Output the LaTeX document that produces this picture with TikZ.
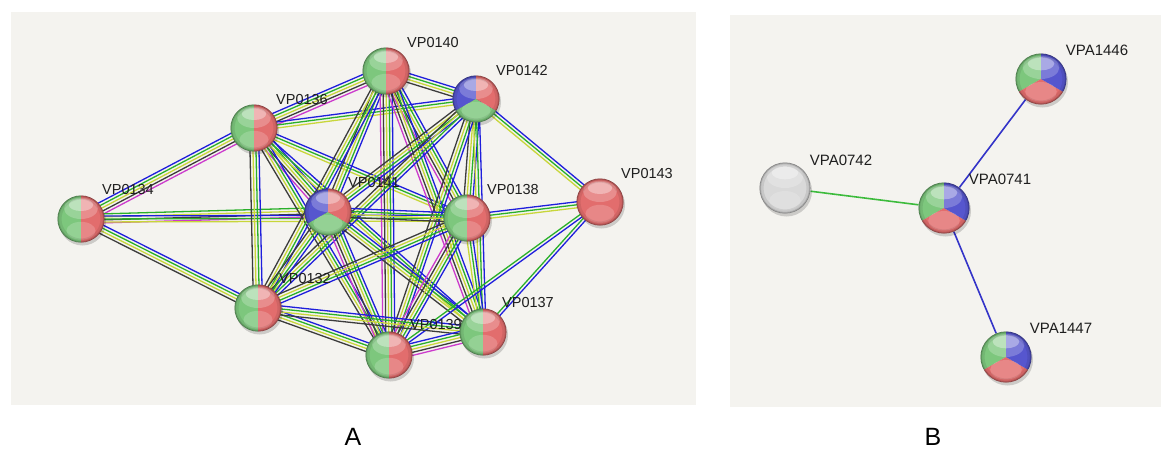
\documentclass[tikz,border=0pt]{standalone}
\usepackage{fontspec}
\setmainfont{Liberation Sans}
\usetikzlibrary{calc}
\definecolor{bgpanel}{HTML}{F4F3EF}
\definecolor{bgreen}{HTML}{7DC77D}
\definecolor{bred}{HTML}{E26D6D}
\definecolor{bblue}{HTML}{5656CE}
\definecolor{bgrey}{HTML}{D9D9D9}
\definecolor{ek}{HTML}{3C3C3C}
\definecolor{ey}{HTML}{C8D63A}
\definecolor{eg}{HTML}{2AB02A}
\definecolor{eb}{HTML}{1E1EDC}
\definecolor{em}{HTML}{CC3ACC}
\definecolor{lbl}{HTML}{1E1E1E}
\definecolor{lineg}{HTML}{3CBB3C}
\definecolor{lineb}{HTML}{3434C8}
\pgfdeclarelayer{back}
\pgfdeclarelayer{edges}
\pgfdeclarelayer{shad}
\pgfsetlayers{back,edges,shad,main}
% glossy sphere effects, #1 = radius (number, pt)
\newcommand\ballfx[1]{%
  \fill[white,opacity=0.22] (0pt,{0.45*#1pt}) ellipse [x radius={0.72*#1pt}, y radius={0.45*#1pt}];
  \fill[white,opacity=0.35] (0pt,{0.6*#1pt}) ellipse [x radius={0.52*#1pt}, y radius={0.26*#1pt}];
  \fill[white,opacity=0.18] (0pt,{-0.5*#1pt}) ellipse [x radius={0.62*#1pt}, y radius={0.38*#1pt}];
  \draw[black,opacity=0.08,line width=8pt] (0pt,0pt) circle [radius={#1pt}];
  \draw[black,opacity=0.14,line width=3pt] (0pt,0pt) circle [radius={#1pt}];
  \draw[black,opacity=0.25,line width=1pt] (0pt,0pt) circle [radius={#1pt}];
}
\newcommand\sector[3]{\fill[#1] (0pt,0pt) -- (#2:45pt) -- ({(#2+#3)/2}:45pt) -- (#3:45pt) -- cycle;}
\tikzset{
  ball/.style={circle, inner sep=0pt, minimum size={2*#1*1pt}},
  halfgr/.style={ball=#1, path picture={\begin{scope}[shift={(path picture bounding box.center)}]
     \fill[bgreen] (-40pt,-40pt) rectangle (0pt,40pt);
     \fill[bred] (0pt,-40pt) rectangle (40pt,40pt);
     \ballfx{#1}\end{scope}}},
  redball/.style={ball=#1, path picture={\begin{scope}[shift={(path picture bounding box.center)}]
     \fill[bred] (-40pt,-40pt) rectangle (40pt,40pt);
     \ballfx{#1}\end{scope}}},
  greyball/.style={ball=#1, path picture={\begin{scope}[shift={(path picture bounding box.center)}]
     \fill[bgrey] (-40pt,-40pt) rectangle (40pt,40pt);
     \ballfx{#1}\end{scope}}},
  tribrg/.style={ball=#1, path picture={\begin{scope}[shift={(path picture bounding box.center)}]
     \sector{bblue}{90}{210}\sector{bgreen}{210}{330}\sector{bred}{-30}{90}
     \ballfx{#1}\end{scope}}},
  trigbr/.style={ball=#1, path picture={\begin{scope}[shift={(path picture bounding box.center)}]
     \sector{bgreen}{90}{210}\sector{bred}{210}{330}\sector{bblue}{-30}{90}
     \ballfx{#1}\end{scope}}},
  lab/.style={text=lbl, inner sep=0pt, font=\fontsize{14.5}{16}\selectfont},
  labB/.style={text=lbl, inner sep=0pt, font=\fontsize{15}{17}\selectfont},
  panelcap/.style={inner sep=0pt, font=\fontsize{25}{27}\selectfont},
  panel/.style={fill=bgpanel, draw=none},
  edgeline/.style={line width=1.3pt},
  bline/.style={line width=1.6pt},
}
\newcommand\bund[3]{%
  \foreach \cc [count=\ii] in {#3} {\xdef\nn{\ii}}%
  \foreach \cc [count=\ii] in {#3} {%
    \pgfmathsetmacro\off{(\ii-(\nn+1)/2)*3.0}%
    \draw[edgeline,\cc] ($(#1)!\off pt!90:(#2)$) -- ($(#2)!\off pt!-90:(#1)$);
  }%
}
\begin{document}
\begin{tikzpicture}[x=1pt,y=-1pt]
\useasboundingbox (0,0) rectangle (1163,451);
\begin{pgfonlayer}{back}
  \fill[white] (0,0) rectangle (1163,451);
  \path[panel] (11,12) rectangle (696,405);
  \path[panel] (730,15) rectangle (1161,407);
\end{pgfonlayer}
% ---------- panel A nodes
\node[halfgr=23.5] (n134) at (81,219) {};
\node[halfgr=23.5] (n136) at (254,128) {};
\node[halfgr=23.5] (n140) at (386,71) {};
\node[tribrg=23.5] (n142) at (476,99) {};
\node[tribrg=23.5] (n141) at (328,212) {};
\node[halfgr=23.5] (n138) at (467,218) {};
\node[redball=23.5] (n143) at (600,202) {};
\node[halfgr=23.5] (n132) at (258,308) {};
\node[halfgr=23.5] (n139) at (389,355) {};
\node[halfgr=23.5] (n137) at (483,332) {};
% ---------- panel B nodes
\node[greyball=25.5] (b742) at (785,188) {};
\node[trigbr=25.5] (b741) at (944,208) {};
\node[trigbr=25.5] (b1446) at (1041,79) {};
\node[trigbr=25.5] (b1447) at (1006,357) {};
% ---------- shadows
\begin{pgfonlayer}{shad}
  \foreach \n in {n134,n136,n140,n142,n141,n138,n143,n132,n139,n137}
    \fill[black,opacity=0.16] ($(\n)+(1.5pt,-3pt)$) circle [radius=23.5pt];
  \foreach \n in {b742,b741,b1446,b1447}
    \fill[black,opacity=0.16] ($(\n)+(1.5pt,-3pt)$) circle [radius=25.5pt];
\end{pgfonlayer}
% ---------- edges
\begin{pgfonlayer}{edges}
\bund{n134}{n136}{em,ek,ey,eg,eb}
\bund{n134}{n141}{em,ek,ey,eg}
\bund{n134}{n138}{ey,eg,eb}
\bund{n134}{n132}{ek,ey,eg,eb}
\bund{n136}{n140}{em,ek,ey,eg,eb}
\bund{n136}{n142}{ey,eg,eb}
\bund{n136}{n141}{em,ek,ey,eg,eb}
\bund{n136}{n138}{ey,eg,eb}
\bund{n136}{n132}{ek,ey,eg,eb}
\bund{n136}{n139}{ek,ey,eg,eb}
\bund{n136}{n137}{ey,eg,eb}
\bund{n140}{n142}{ek,ey,eg,eb}
\bund{n140}{n141}{ek,ey,eg,eb}
\bund{n140}{n138}{em,ek,ey,eg,eb}
\bund{n140}{n139}{em,ek,ey,eg,eb}
\bund{n140}{n137}{em,ek,ey,eg,eb}
\bund{n140}{n132}{ek,ey,eg,eb}
\bund{n142}{n141}{ek,ey,eg,eb}
\bund{n142}{n138}{ek,ey,eg,eb}
\bund{n142}{n143}{ey,eg,eb}
\bund{n142}{n132}{ek,ey,eg,eb}
\bund{n142}{n139}{ek,ey,eg,eb}
\bund{n142}{n137}{ey,eg,eb}
\bund{n141}{n138}{ek,ey,eg,eb}
\bund{n141}{n132}{ek,ey,eg,eb}
\bund{n141}{n139}{em,ek,ey,eg,eb}
\bund{n141}{n137}{ek,ey,eg,eb}
\bund{n138}{n143}{ey,eg,eb}
\bund{n138}{n132}{ek,ey,eg,eb}
\bund{n138}{n139}{em,ek,ey,eg,eb}
\bund{n138}{n137}{ey,eg,eb}
\bund{n143}{n137}{eg,eb}
\bund{n143}{n139}{eg,eb}
\bund{n132}{n139}{ek,ey,eg,eb}
\bund{n132}{n137}{ek,ey,eg,eb}
\bund{n139}{n137}{em,ek,ey,eg,eb}
\draw[bline,lineg] (b742) -- (b741);
\draw[bline,lineb] (b741) -- (b1446);
\draw[bline,lineb] (b741) -- (b1447);
\end{pgfonlayer}
% ---------- labels
\node[lab] (t134) at (128,190) {VP0134};
\node[lab] (t136) at (302,100) {VP0136};
\node[lab] (t140) at (433,43) {VP0140};
\node[lab] (t142) at (522,71) {VP0142};
\node[lab] (t141) at (374,183) {VP0141};
\node[lab] (t138) at (513,190) {VP0138};
\node[lab] (t143) at (647,174) {VP0143};
\node[lab] (t132) at (305,279) {VP0132};
\node[lab] (t139) at (436,325) {VP0139};
\node[lab] (t137) at (528,303) {VP0137};
\node[labB] (u742) at (841,160) {VPA0742};
\node[labB] (u741) at (1000,179) {VPA0741};
\node[labB] (u1446) at (1097,50) {VPA1446};
\node[labB] (u1447) at (1061,328) {VPA1447};
\node[panelcap] (capA) at (353,436.5) {A};
\node[panelcap] (capB) at (933,436.5) {B};
\end{tikzpicture}
\end{document}
